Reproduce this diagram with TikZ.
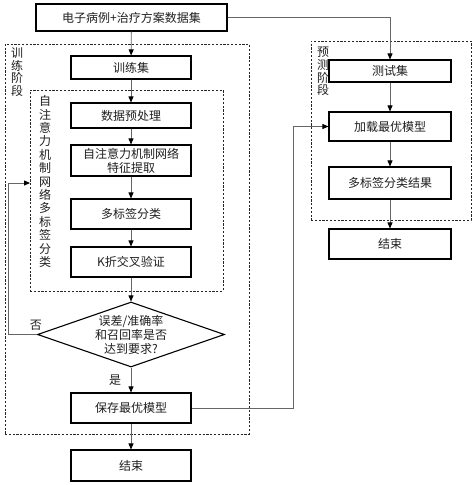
\documentclass[tikz,border=0pt]{standalone}
\usepackage{fontspec}
\newfontfamily\zhfont{Noto Sans CJK SC}
\usetikzlibrary{arrows.meta,shapes.geometric}

\begin{document}
\begin{tikzpicture}[
  x=1pt,
  y=-1pt,
  line join=miter,
  every node/.style={font=\zhfont\fontsize{12}{14}\selectfont,text=black!88},
  stepbox/.style={draw=black,line width=1.1pt,minimum width=120,minimum height=#1,inner sep=0pt,align=center},
  stepbox/.default=30,
  testbox/.style={stepbox=#1,minimum width=122},
  testbox/.default=30,
  decision/.style={draw=black,line width=1.1pt,diamond,aspect=2.88,inner sep=-9pt,
    minimum width=187,minimum height=65,align=center},
  zone/.style={draw=black!85,line width=0.9pt,dash pattern=on 2.2pt off 1.6pt,inner sep=0pt},
  zonelabel/.style={align=center,inner sep=0pt,font=\zhfont\fontsize{12}{12.8}\selectfont},
  link/.style={draw=black!60,line width=0.8pt,-{Triangle[length=6pt,width=5pt,color=black]}}
]
  \useasboundingbox (0,0) rectangle (474,485);

  % Dashed stage frames, drawn first so the boxes sit on top.
  \node[zone,minimum width=244,minimum height=390] (trainzone) at (127,239) {};
  \node[zone,minimum width=193,minimum height=201] (netzone) at (126.5,190.5) {};
  \node[zone,minimum width=160,minimum height=179] (predzone) at (391,130.5) {};
  \node[zonelabel] (trainlab) at (17,72) {训\\练\\阶\\段};
  \node[zonelabel,font=\zhfont\fontsize{12}{13.4}\selectfont] (netlab) at (45,181.5)
    {自\\注\\意\\力\\机\\制\\网\\络\\多\\标\\签\\分\\类};
  \node[zonelabel] (predlab) at (323,71.5) {预\\测\\阶\\段};

  % Training column.
  \node[stepbox=27,minimum width=191] (data) at (131.5,17.5) {电子病例+治疗方案数据集};
  \node[stepbox=23] (trainset) at (131,67.5) {训练集};
  \node[stepbox=25] (prep) at (131,115.5) {数据预处理};
  \node[stepbox=31] (feat) at (131,160.5) {自注意力机制网络\\特征提取};
  \node[stepbox] (mlc) at (131,214) {多标签分类};
  \node[stepbox] (kfold) at (131,262) {K折交叉验证};
  \node[decision] (check) at (131,334.5) {误差/准确率\\和召回率是否\\达到要求?};
  \node[stepbox] (save) at (131,408) {保存最优模型};
  \node[stepbox=31] (endleft) at (131,465.5) {结束};
  \node (no) at (36,325) {否};
  \node (yes) at (115,380) {是};

  % Prediction column.
  \node[testbox=22] (testset) at (390,71) {测试集};
  \node[testbox=29] (load) at (390,126.5) {加载最优模型};
  \node[testbox=32] (result) at (390,183) {多标签分类结果};
  \node[testbox] (endright) at (390,244) {结束};

  % Turning points of the two long connectors.
  \coordinate (loopin) at (30,183);
  \coordinate (loopcorner) at (8,183);
  \coordinate (turn) at (293,126.5);

  \draw[link] (data) -- (trainset);
  \draw[link] (trainset) -- (prep);
  \draw[link] (prep) -- (feat);
  \draw[link] (feat) -- (mlc);
  \draw[link] (mlc) -- (kfold);
  \draw[link] (kfold) -- (check);
  \draw[link] (check) -- (save);
  \draw[link] (save) -- (endleft);
  \draw[link] (check.west) -| (loopcorner) -- (loopin);

  \draw[link] (data.east) -| (testset.north);
  \draw[link] (testset) -- (load);
  \draw[link] (load) -- (result);
  \draw[link] (result) -- (endright);
  \draw[link] (save.east) -| (turn) -- (load.west);
\end{tikzpicture}
\end{document}
